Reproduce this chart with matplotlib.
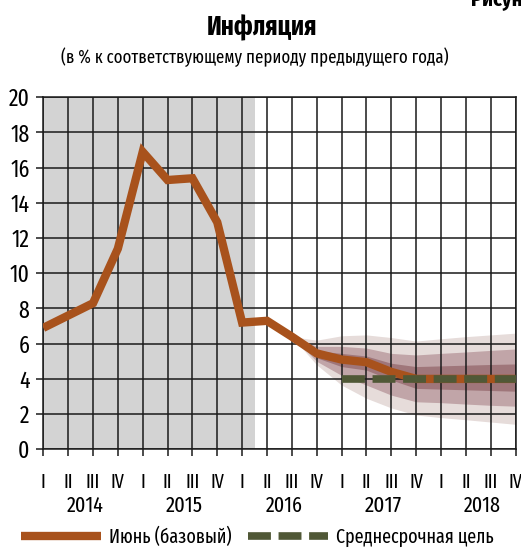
import matplotlib
matplotlib.use("Agg")
import matplotlib.pyplot as plt
from matplotlib.lines import Line2D
from matplotlib import font_manager

# ---- data ----
quarter_labels = ["I", "II", "III", "IV"] * 5
years = ["2014", "2015", "2016", "2017", "2018"]
inflation = [6.9, 7.6, 8.3, 11.4, 16.9, 15.3, 15.4, 12.9, 7.2, 7.3,
             6.4, 5.45, 5.1, 4.95, 4.4, 4.0, 4.0, 4.0, 4.0, 4.0]
target_idx = [12, 13, 14, 15, 16, 17, 18, 19]
target = [4.0] * 8
fan_idx = [10, 11, 12, 13, 14, 15, 16, 17, 18, 19]
outer_hi = [6.4, 6.2, 6.45, 6.5, 6.35, 6.15, 6.28, 6.4, 6.5, 6.6]
outer_lo = [6.4, 4.8, 3.65, 2.9, 2.35, 1.95, 1.8, 1.68, 1.55, 1.42]
mid_hi = [6.4, 5.85, 5.85, 5.75, 5.45, 5.36, 5.45, 5.53, 5.62, 5.7]
mid_lo = [6.4, 5.0, 4.2, 3.65, 3.08, 2.7, 2.65, 2.57, 2.5, 2.45]
dark_hi = [6.4, 5.6, 5.45, 5.3, 4.89, 4.7, 4.74, 4.78, 4.82, 4.85]
dark_lo = [6.4, 5.2, 4.7, 4.5, 3.94, 3.46, 3.42, 3.38, 3.34, 3.3]
shade_end = 8.5
legend_labels = ["Июнь (базовый)", "Среднесрочная цель"]

# ---- fonts ----
names = {f.name for f in font_manager.fontManager.ttflist}
prefs = ["Fira Sans Extra Condensed", "Roboto Condensed", "PT Sans Narrow",
         "Fira Sans Condensed", "Liberation Sans Narrow"]
narrow = next((p for p in prefs if p in names), "DejaVu Sans")
plt.rcParams["font.family"] = [narrow, "DejaVu Sans"]

ORANGE = "#A8521C"
OLIVE = "#505836"
GRID = "#1a1a1a"

fig = plt.figure(figsize=(5.21, 5.50), dpi=100)
ax = fig.add_axes([43.3 / 521, 100.7 / 550, (515.5 - 43.3) / 521, (449.3 - 97.3) / 550])

ax.axvspan(0, shade_end, color="#D3D3D3", zorder=0.2, lw=0)
ax.fill_between(fan_idx, outer_lo, outer_hi, color="#E6DCDA", lw=0, zorder=0.3)
ax.fill_between(fan_idx, mid_lo, mid_hi, color="#C1A5A8", lw=0, zorder=0.35)
ax.fill_between(fan_idx, dark_lo, dark_hi, color="#9F767A", lw=0, zorder=0.4)

ax.plot(range(len(inflation)), inflation, color=ORANGE, lw=6, solid_joinstyle="miter",
        solid_capstyle="butt", zorder=3)
ax.plot(target_idx, target, color=OLIVE, lw=5.5, linestyle=(0, (3, 1)),
        dash_capstyle="butt", zorder=4)

ax.set_xlim(0, 19)
ax.set_ylim(0, 20)
ax.set_yticks(range(0, 21, 2))
ax.set_xticks(range(20))
ax.set_xticklabels(quarter_labels, fontsize=14)
ax.tick_params(axis="y", labelsize=17, length=5, width=1.1, pad=5, color=GRID)
ax.tick_params(axis="x", length=5, width=1.1, pad=12, color=GRID)
ax.set_axisbelow(True)
ax.grid(True, color=GRID, lw=1.1)
for s in ax.spines.values():
    s.set_color(GRID)
    s.set_linewidth(1.1)

year_texts = []
for k, y in enumerate(years):
    year_texts.append(ax.text(4 * k + 1.5 + 0.18, -0.161, y, transform=ax.get_xaxis_transform(),
                              ha="center", va="center", fontsize=17))

title = fig.text(262 / 521, 1 - 35 / 550, "Инфляция", ha="center", va="baseline",
                 fontsize=18, fontweight="bold")
sub = fig.text(255 / 521, 1 - 63 / 550, "(в % к соответствующему периоду предыдущего года)",
               ha="center", va="baseline", fontsize=15)
fig.text(471 / 521, 1 - 5 / 550, "Рисунок", ha="left", va="baseline",
         fontsize=16, fontweight="bold")

handles = [Line2D([], [], color=ORANGE, lw=6, solid_capstyle="butt"),
           Line2D([], [], color=OLIVE, lw=5.5, linestyle=(0, (3, 1)), dash_capstyle="butt")]

fig.canvas.draw()
r = fig.canvas.get_renderer()


def fit(t, width):
    w = t.get_window_extent(r).width
    t.set_fontsize(t.get_fontsize() * width / w)


fit(title, 111)
fit(sub, 386)
for t in year_texts:
    fit(t, 37)

tot = 0
for lab in legend_labels:
    probe = fig.text(0, 0, lab, fontsize=14)
    tot += probe.get_window_extent(r).width
    probe.remove()
lfs = 14 * 280 / tot
px = lfs * 100 / 72
fig.legend(handles, legend_labels, loc="center left",
           bbox_to_anchor=(21 / 521, 1 - 537 / 550), ncol=2, frameon=False,
           fontsize=lfs, handlelength=80 / px, handletextpad=8 / px, columnspacing=16 / px,
           borderpad=0, borderaxespad=0)

fig.savefig("out.png", dpi=100)
